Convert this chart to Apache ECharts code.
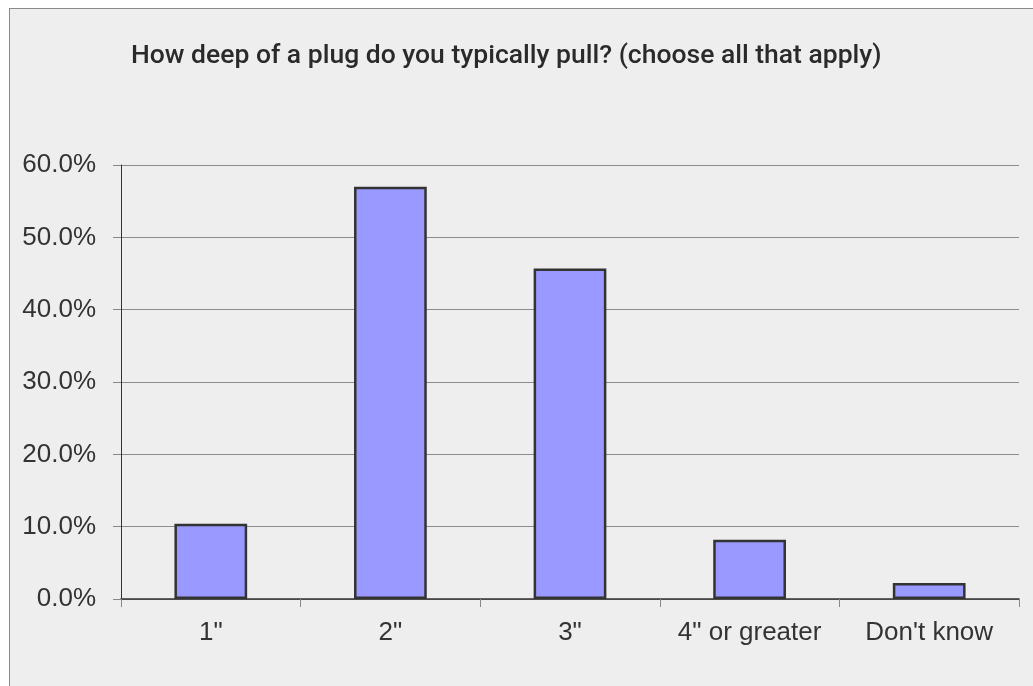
<!DOCTYPE html>
<html>
<head>
<meta charset="utf-8">
<script src="https://cdn.jsdelivr.net/npm/echarts@6/dist/echarts.min.js"></script>
<style>
  html, body { margin: 0; padding: 0; background: #ffffff; }
  #frame {
    position: absolute; left: 9px; top: 8px; width: 1100px; height: 700px;
    background: #eeeeee; border: 1px solid #8a8a8a;
  }
  #chart { position: absolute; left: 0; top: 0; width: 1033px; height: 686px; }
</style>
</head>
<body>
<div id="frame"></div>
<div id="chart"></div>
<script>
// categories and values (percent)
var categories = ['1"', '2"', '3"', '4" or greater', "Don't know"];
var values = [10.4, 57.0, 45.7, 8.2, 2.2];
var yTicks = [0, 10, 20, 30, 40, 50, 60];

var chart = echarts.init(document.getElementById("chart"));
var option = {
  backgroundColor: "transparent",
  animation: false,
  title: {
    text: "How deep of a plug do you typically pull? (choose all that apply)",
    left: 126,
    top: 38,
    textStyle: {
      fontFamily: "Roboto",
      fontSize: 26.5,
      fontWeight: 500,
      color: "#2a2a2a"
    }
  },
  grid: { left: 121, right: 14, top: 165, bottom: 87 },
  xAxis: {
    type: "category",
    data: categories,
    axisLine: { lineStyle: { color: "#333", width: 1.5 } },
    axisTick: { show: true, interval: 0, length: 8, lineStyle: { color: "#888" } },
    axisLabel: {
      interval: 0,
      margin: 21,
      fontFamily: "Liberation Sans",
      fontSize: 26,
      color: "#333"
    }
  },
  yAxis: {
    type: "value",
    min: yTicks[0],
    max: yTicks[yTicks.length - 1],
    interval: 10,
    axisLine: { show: true, lineStyle: { color: "#333", width: 1 } },
    axisTick: { show: true, length: 8, lineStyle: { color: "#888" } },
    splitLine: { lineStyle: { color: "#8c8c8c", width: 1 } },
    axisLabel: {
      margin: 25,
      fontFamily: "Liberation Sans",
      fontSize: 26,
      color: "#333",
      formatter: function (v) { return v.toFixed(1) + "%"; }
    }
  },
  series: [
    {
      type: "bar",
      data: values,
      barWidth: "40.5%",
      itemStyle: { color: "#9999ff", borderColor: "#333", borderWidth: 2.5 }
    }
  ]
};
chart.setOption(option);
</script>
</body>
</html>
